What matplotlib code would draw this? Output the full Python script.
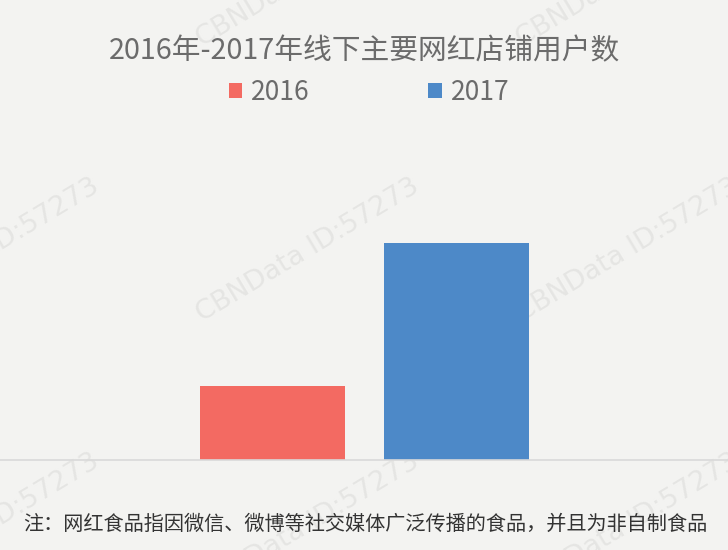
import matplotlib.pyplot as plt
from matplotlib.patches import Patch

plt.rcParams['font.family'] = ['Noto Sans CJK SC', 'DejaVu Sans']

# 数据（无纵轴，按柱高比例估计）
years = ['2016', '2017']
users = [0.74, 2.17]
colors = ['#f36a62', '#4d89c8']

title = '2016年-2017年线下主要网红店铺用户数'
note = '注：网红食品指因微信、微博等社交媒体广泛传播的食品，并且为非自制食品'
watermark = 'CBNData ID:57273'

bg = '#f3f3f1'
fig = plt.figure(figsize=(7.28, 5.5), dpi=100, facecolor=bg)

# 水印
for wy in [-25, 250, 525]:
    for wx in [-12, 308, 628]:
        fig.text(wx / 728, 1 - wy / 550, watermark, rotation=31,
                 rotation_mode='anchor', ha='center', va='center',
                 fontsize=19.5, color='#e5e5e3', family=['DejaVu Sans'], zorder=0)

ax = fig.add_axes([0, 90 / 550, 1, 330 / 550])
ax.set_zorder(1)
ax.set_facecolor('none')
offsets = [-0.251, 0.254]
for i in range(len(years)):
    ax.bar(offsets[i], users[i], width=0.398, color=colors[i], zorder=2)

ax.set_xlim(-1, 1)
ax.set_ylim(0, 3.30)
for s in ['top', 'left', 'right']:
    ax.spines[s].set_visible(False)
ax.spines['bottom'].set_color('#d9d9d9')
ax.spines['bottom'].set_linewidth(1.2)
ax.set_xticks([])
ax.set_yticks([])

fig.text(0.5, 1 - 51 / 550, title, ha='center', va='center',
         fontsize=20.7, color='#6b6b6b', zorder=3)

handles = [Patch(facecolor=colors[i], label=years[i]) for i in range(len(years))]
leg = fig.legend(handles=handles, loc='center', bbox_to_anchor=(0.507, 1 - 92 / 550),
                 ncol=2, frameon=False, fontsize=19, labelcolor='#6b6b6b',
                 handlelength=0.5, handleheight=0.5, handletextpad=0.35,
                 columnspacing=4.5)
leg.set_zorder(3)

fig.text(0.502, 1 - 524 / 550, note, ha='center', va='center',
         fontsize=14.5, color='#333333', zorder=3)

fig.savefig('out.png', dpi=100, facecolor=bg)
